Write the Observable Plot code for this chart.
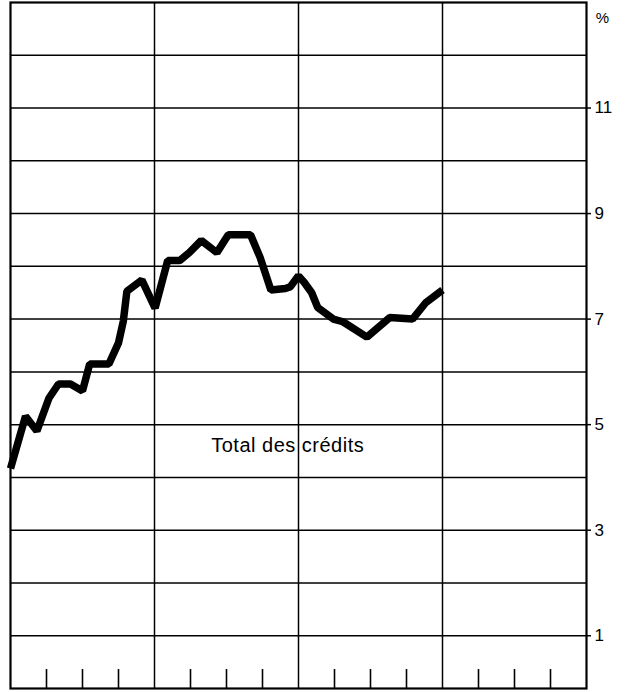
<!DOCTYPE html>
<html>
<head>
<meta charset="utf-8">
<script src="https://cdn.jsdelivr.net/npm/d3@7"></script>
<script src="https://cdn.jsdelivr.net/npm/@observablehq/plot@0.6"></script>
<style>
  html, body { margin: 0; padding: 0; background: #fff; }
  #chart svg { display: block; }
</style>
</head>
<body>
<div id="chart"></div>
<script>
// Time axis in months from the start of the first year (4 years shown)
const months = [0, 1.25, 2.2, 3.2, 4.0, 5.0, 6.0, 6.6, 8.2, 9.0, 9.4, 9.7, 10.95, 12.05,
  13.1, 14.1, 14.9, 15.9, 17.2, 18.15, 20.0, 20.8, 21.7, 22.9, 23.3, 24.0, 24.5, 25.1,
  25.6, 26.9, 27.7, 29.7, 31.6, 33.5, 34.6, 36.0];
const values = [4.17, 5.16, 4.88, 5.50, 5.77, 5.77, 5.64, 6.15, 6.15, 6.55, 6.96, 7.53, 7.74, 7.21,
  8.11, 8.11, 8.26, 8.49, 8.26, 8.60, 8.60, 8.17, 7.55, 7.58, 7.61, 7.82, 7.69, 7.50,
  7.22, 7.00, 6.95, 6.66, 7.03, 7.00, 7.31, 7.55];
const yearBounds = [12, 24, 36];
const quarterTicks = [3, 6, 9, 15, 18, 21, 27, 30, 33, 39, 42, 45];
const yGrid = [1, 2, 3, 4, 5, 6, 7, 8, 9, 10, 11, 12];
const yTickLabels = [1, 3, 5, 7, 9, 11];
const seriesLabel = "Total des crédits";
const unitLabel = "%";

const data = months.map((m, i) => ({m, v: values[i]}));

const chart = Plot.plot({
  width: 627,
  height: 692,
  marginLeft: 10,
  marginRight: 41,
  marginTop: 2,
  marginBottom: 4,
  style: {fontFamily: "'Liberation Sans', Arial, sans-serif", fontSize: "17px", color: "#000", background: "#fff"},
  x: {domain: [0, 48], axis: null},
  y: {domain: [0, 13], axis: null},
  marks: [
    Plot.gridY(yGrid, {stroke: "#000", strokeOpacity: 1, strokeWidth: 1.5}),
    Plot.gridX(yearBounds, {stroke: "#000", strokeOpacity: 1, strokeWidth: 1.5}),
    Plot.ruleX(quarterTicks, {y1: 0, y2: 0.36, stroke: "#000", strokeWidth: 1.6}),
    Plot.axisY(yTickLabels, {anchor: "right", tickSize: 4, tickPadding: 4, tickFormat: "d", fontSize: 17, stroke: "#000", strokeWidth: 1.5, label: null, textAnchor: "start"}),
    Plot.frame({stroke: "#000", strokeWidth: 2.2}),
    Plot.line(data, {x: "m", y: "v", stroke: "#000", strokeWidth: 7.5, strokeLinejoin: "miter", strokeLinecap: "butt"}),
    Plot.text([seriesLabel], {x: 23.1, y: 4.6, text: d => d, fontSize: 20, fill: "#000"}),
    Plot.text([unitLabel], {frameAnchor: "top-right", dx: 16, dy: 10, text: d => d, textAnchor: "middle", fontSize: 15, fill: "#000"})
  ]
});
chart.querySelectorAll("text").forEach(t => { if (t.textContent === seriesLabel) t.setAttribute("letter-spacing", "0.5"); });
document.getElementById("chart").appendChild(chart);
</script>
</body>
</html>
